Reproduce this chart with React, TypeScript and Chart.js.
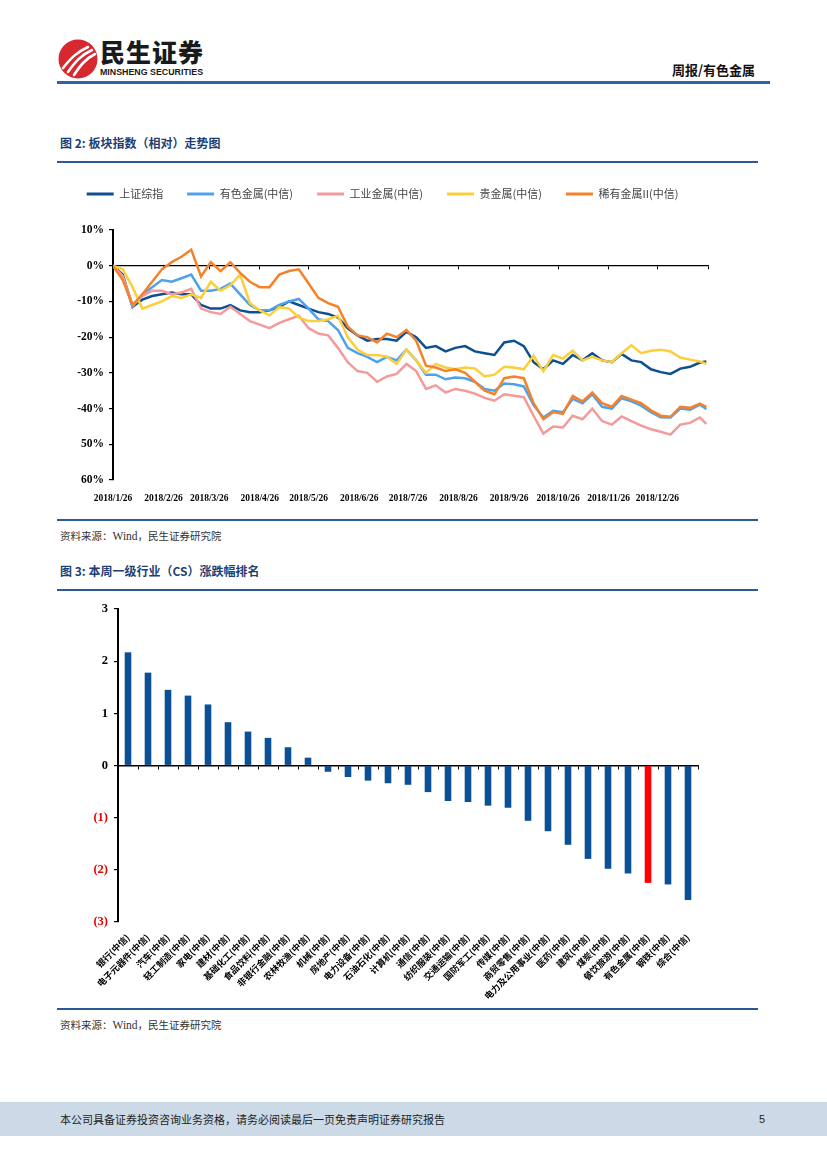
import React, { useEffect, useRef } from 'react';
import { Chart, registerables } from 'chart.js';
Chart.register(...registerables);

// ---------- Figure 2 data (relative index, %) ----------
const dayOffsets = [0, 6, 12, 18, 24, 30, 36, 42, 48, 54, 60, 66, 72, 78, 84, 90, 96, 102, 108, 114, 120, 126, 132, 138, 144, 150, 156, 162, 168, 174, 180, 186, 192, 198, 204, 210, 216, 222, 228, 234, 240, 246, 252, 258, 264, 270, 276, 282, 288, 294, 300, 306, 312, 318, 324, 330, 336, 342, 348, 354, 360, 364];
const monthTickDays = [0, 31, 59, 90, 120, 151, 181, 212, 243, 273, 304, 334, 365];
const monthTickLabels = ['2018/1/26', '2018/2/26', '2018/3/26', '2018/4/26', '2018/5/26', '2018/6/26', '2018/7/26', '2018/8/26', '2018/9/26', '2018/10/26', '2018/11/26', '2018/12/26', ''];
const seriesNames = ['上证综指', '有色金属(中信)', '工业金属(中信)', '贵金属(中信)', '稀有金属II(中信)'];
const shanghai = [0, -2.5, -11.5, -9.5, -8.5, -8, -7.5, -8, -8, -11, -12, -12, -11, -12.5, -13, -13, -12.5, -11.5, -10, -11, -12, -13, -13.5, -14.5, -17.5, -19.5, -21, -20.5, -20.5, -21, -18.5, -20, -23, -22.5, -24, -23, -22.5, -24, -24.5, -25, -21.5, -21, -22.5, -27, -29, -26.5, -27.5, -25, -26.5, -24.5, -26.5, -27, -24.7, -26.5, -27, -29, -29.8, -30.3, -28.8, -28.3, -27.1, -26.8];
const nonferrous = [0, -3, -11.5, -8, -6, -4, -4.5, -3.5, -2.5, -7, -7, -6.5, -5, -8, -11, -12.5, -12.5, -11, -10, -9.3, -12, -15, -15.5, -18, -23, -24.5, -25.5, -27, -25.5, -26.5, -23.5, -26.5, -30.5, -30.5, -31.8, -31.3, -31.5, -32.5, -34.5, -35, -33, -33.2, -33.8, -39, -42.5, -40.6, -41, -37.3, -38.5, -36, -39.5, -40, -37.1, -38, -39.2, -41, -42.4, -42.5, -40, -40.3, -38.9, -40.1];
const industrialMetals = [0, -3, -11, -8.5, -7, -7, -8, -7.5, -6.5, -12, -13, -13.5, -11.5, -13.5, -15.5, -16.5, -17.5, -16, -15, -14, -17.5, -19, -19.5, -23, -27, -29.5, -30, -32.5, -31, -30.3, -27.5, -29.5, -34.5, -33.5, -35.5, -34.5, -35, -35.8, -37, -37.8, -36, -36.4, -36.8, -42, -47, -45, -45.3, -42, -43, -40, -43.5, -44.5, -42.2, -43.5, -44.8, -45.8, -46.5, -47.3, -44.5, -44, -42.5, -44.3];
const preciousMetals = [0, -1, -6, -12, -11, -10, -8.5, -9, -8, -9, -4.5, -7, -5.5, -2.5, -10.5, -12.5, -13.9, -11.6, -12, -14.5, -15.5, -15.5, -15, -14, -20, -23.5, -25, -25, -25.5, -27.5, -23.5, -26.5, -30, -27.5, -28.5, -29, -28.5, -28.8, -31, -30.5, -28.3, -28.5, -29, -25.2, -29.5, -25, -26, -23.8, -26.5, -25.5, -26.5, -27, -24.5, -22.3, -24.5, -23.8, -23.5, -24, -25.7, -26.3, -26.8, -27.5];
const rareMetals = [0, -4, -11, -8, -4.5, -1, 1, 2.5, 4.5, -3, 1, -1.5, 1, -2, -4.5, -6, -6, -2.5, -1.5, -1, -5, -9, -10.5, -11.5, -17, -19.5, -20, -21.5, -19, -20, -18, -21, -28, -28.5, -29.5, -29, -30, -32.5, -35, -36, -31.5, -31, -31.5, -38.5, -43, -41, -41.5, -36.5, -38, -35.5, -38.5, -39.5, -36.5, -37.5, -38.5, -40.5, -42, -42.3, -39.5, -39.8, -38.6, -39.5];
const seriesColors = ['#0e4f8f', '#4ea1ec', '#f49a9a', '#fbcf3a', '#f5822a'];

// ---------- Figure 3 data ----------
const industries = ['银行(中信)', '电子元器件(中信)', '汽车(中信)', '轻工制造(中信)', '家电(中信)', '建材(中信)', '基础化工(中信)', '食品饮料(中信)', '非银行金融(中信)', '农林牧渔(中信)', '机械(中信)', '房地产(中信)', '电力设备(中信)', '石油石化(中信)', '计算机(中信)', '通信(中信)', '纺织服装(中信)', '交通运输(中信)', '国防军工(中信)', '传媒(中信)', '商贸零售(中信)', '电力及公用事业(中信)', '医药(中信)', '建筑(中信)', '煤炭(中信)', '餐饮旅游(中信)', '有色金属(中信)', '钢铁(中信)', '综合(中信)'];
const weeklyChange = [2.17, 1.78, 1.45, 1.34, 1.17, 0.83, 0.65, 0.53, 0.35, 0.15, -0.12, -0.22, -0.29, -0.34, -0.37, -0.51, -0.68, -0.70, -0.77, -0.81, -1.06, -1.26, -1.52, -1.79, -1.98, -2.07, -2.25, -2.28, -2.58];
const highlightIndustry = '有色金属(中信)';

const CJK = '"Noto Sans CJK SC", "Noto Sans", sans-serif';
const SERIF = '"Liberation Serif", "DejaVu Serif", serif';
const NAVY = '#1d3f73';
const RULE = '#2a5a94';

const legendGap = {
  id: 'legendGap',
  beforeInit(chart: any) {
    const legend = chart.legend;
    if (!legend) return;
    const orig = legend.fit;
    legend.fit = function () {
      orig.call(this);
      this.height += 20.5;
    };
  },
};

function Text({ x, y, size, children, style }: any) {
  return (
    <div style={{ position: 'absolute', left: x, top: y - size * 0.6, fontSize: size, lineHeight: `${size * 1.2}px`, whiteSpace: 'nowrap', fontFamily: CJK, ...style }}>
      {children}
    </div>
  );
}

function Rule({ y, h = 1.5, color = RULE, x = 57, w = 701 }: any) {
  return <div style={{ position: 'absolute', left: x, top: y, width: w, height: h, background: color }} />;
}

export default function App() {
  const c1 = useRef<HTMLCanvasElement>(null);
  const c2 = useRef<HTMLCanvasElement>(null);

  useEffect(() => {
    const allSeries = [shanghai, nonferrous, industrialMetals, preciousMetals, rareMetals];
    const ch1 = new Chart(c1.current as HTMLCanvasElement, {
      type: 'line',
      data: {
        datasets: allSeries.map((s, k) => ({
          label: seriesNames[k],
          data: dayOffsets.map((d, i) => ({ x: d, y: s[i] })),
          borderColor: seriesColors[k],
          backgroundColor: seriesColors[k],
          borderWidth: 2.5,
          pointRadius: 0,
          tension: 0,
          order: allSeries.length - 1 - k,
        })),
      },
      options: {
        responsive: false,
        animation: false,
        layout: { padding: { top: 4.5, right: 50, left: 0, bottom: 0 } },
        plugins: {
          tooltip: { enabled: false },
          legend: {
            position: 'top',
            labels: {
              boxWidth: 27,
              boxHeight: 3,
              padding: 24,
              color: '#444',
              font: { family: CJK, size: 11 },
              generateLabels: (chart: any) =>
                (Chart.defaults.plugins.legend.labels as any)
                  .generateLabels(chart)
                  .map((l: any) => ({ ...l, lineWidth: 0 }))
                  .sort((a: any, b: any) => a.datasetIndex - b.datasetIndex),
            },
          },
        },
        scales: {
          x: {
            type: 'linear',
            position: 'bottom',
            min: 0,
            max: 365,
            afterBuildTicks: (scale: any) => {
              scale.ticks = monthTickDays.slice(0, 12).map((v) => ({ value: v }));
            },
            afterFit: (scale: any) => { scale.height = 25; },
            grid: { display: false },
            border: { display: false },
            ticks: {
              autoSkip: false,
              maxRotation: 0,
              padding: 5,
              color: '#000',
              font: { family: SERIF, size: 9.5, weight: 'bold' },
              callback: (v: any) => monthTickLabels[monthTickDays.indexOf(Number(v))] ?? '',
            },
          },
          x2: {
            type: 'linear',
            axis: 'x',
            position: { y: 0 },
            min: 0,
            max: 365,
            afterBuildTicks: (scale: any) => {
              scale.ticks = monthTickDays.map((v) => ({ value: v }));
            },
            grid: { drawOnChartArea: false, drawTicks: true, tickLength: 3, color: '#000', lineWidth: 1 },
            border: { display: true, color: '#000', width: 1.3 },
            ticks: { display: false },
          },
          y: {
            min: -60,
            max: 10,
            afterFit: (scale: any) => { scale.width = 56; },
            ticks: {
              stepSize: 10,
              padding: 5,
              color: '#000',
              font: { family: SERIF, size: 11.5, weight: 'bold' },
              callback: (v: any) => (Number(v) <= -50 ? `${-Number(v)}%` : `${v}%`),
            },
            grid: { drawOnChartArea: false, drawTicks: true, tickLength: 4, color: '#000', lineWidth: 1.2 },
            border: { display: true, color: '#000', width: 2 },
          },
        },
      } as any,
      plugins: [legendGap],
    });

    const ch2 = new Chart(c2.current as HTMLCanvasElement, {
      type: 'bar',
      data: {
        labels: industries,
        datasets: [
          {
            data: weeklyChange,
            backgroundColor: industries.map((n) => (n === highlightIndustry ? '#ff0000' : '#0b4f94')),
            barPercentage: 0.33,
            categoryPercentage: 1,
          },
        ],
      },
      options: {
        responsive: false,
        animation: false,
        layout: { padding: { top: 14, right: 60, left: 0, bottom: 0 } },
        plugins: { legend: { display: false }, tooltip: { enabled: false } },
        scales: {
          x: {
            type: 'category',
            position: 'bottom',
            offset: true,
            afterFit: (scale: any) => { scale.height = 83; },
            grid: { display: false },
            border: { display: false },
            ticks: {
              autoSkip: false,
              minRotation: 45,
              maxRotation: 45,
              padding: 2,
              color: '#000',
              font: { family: CJK, size: 9, weight: 'bold' },
            },
          },
          x2: {
            type: 'category',
            axis: 'x',
            position: { y: 0 },
            offset: true,
            grid: { drawOnChartArea: false, drawTicks: true, tickLength: 3, color: '#000', lineWidth: 1, offset: true },
            border: { display: true, color: '#000', width: 1.5 },
            ticks: { display: false },
          },
          y: {
            min: -3,
            max: 3,
            afterFit: (scale: any) => { scale.width = 61; },
            ticks: {
              stepSize: 1,
              padding: 6,
              font: { family: SERIF, size: 12.5, weight: 'bold' },
              color: (ctx: any) => (ctx.tick && ctx.tick.value < 0 ? '#e60000' : '#000'),
              callback: (v: any) => (Number(v) < 0 ? `(${-Number(v)})` : `${v}`),
            },
            grid: { drawOnChartArea: false, drawTicks: true, tickLength: 4, color: '#000', lineWidth: 1.2 },
            border: { display: true, color: '#000', width: 2 },
          },
        },
      } as any,
    });

    return () => {
      ch1.destroy();
      ch2.destroy();
    };
  }, []);

  return (
    <div style={{ position: 'fixed', left: 0, top: 0, width: 827, height: 1169, background: '#fff', overflow: 'hidden' }}>
      {/* header logo */}
      <svg style={{ position: 'absolute', left: 57, top: 38 }} width={42} height={42} viewBox="0 0 42 42">
        <circle cx={21} cy={21} r={19.5} fill="#d8282f" />
        <path d="M6 30 C 14 20, 20 14, 31 9" stroke="#fff" strokeWidth={2.6} fill="none" strokeLinecap="round" />
        <path d="M11 34 C 18 24, 24 17, 35 12" stroke="#fff" strokeWidth={2.6} fill="none" strokeLinecap="round" />
        <path d="M17 37 C 23 28, 28 21, 38 16" stroke="#fff" strokeWidth={2.6} fill="none" strokeLinecap="round" />
      </svg>
      <div style={{ position: 'absolute', left: 100, top: 38, fontSize: 25, lineHeight: '27px', fontWeight: 900, fontFamily: CJK, color: '#1a1a1a', letterSpacing: 1, whiteSpace: 'nowrap' }}>民生证券</div>
      <div style={{ position: 'absolute', left: 100, top: 67, fontSize: 9.5, lineHeight: '10px', fontWeight: 700, fontFamily: '"Liberation Sans", Arial, sans-serif', color: '#1a1a1a', whiteSpace: 'nowrap', transform: 'scaleX(0.93)', transformOrigin: 'left center' }}>MINSHENG SECURITIES</div>
      <div style={{ position: 'absolute', right: 827 - 755, top: 62, fontSize: 13, lineHeight: '16px', fontWeight: 700, fontFamily: CJK, color: '#111', whiteSpace: 'nowrap' }}>周报/有色金属</div>
      <Rule y={81} h={3} color="#2f63a8" x={57} w={713} />

      {/* Figure 2 */}
      <Text x={60} y={143} size={12} style={{ fontWeight: 700, color: NAVY }}>图 2: 板块指数（相对）走势图</Text>
      <Rule y={161} />
      <canvas ref={c1} width={701} height={345} style={{ position: 'absolute', left: 57, top: 160, width: 701, height: 345 }} />
      <Rule y={519} />
      <Text x={60} y={536} size={10.5} style={{ color: '#333' }}>资料来源：<span style={{ fontFamily: SERIF, fontSize: 11.5 }}>Wind</span>，民生证券研究院</Text>

      {/* Figure 3 */}
      <Text x={60} y={571} size={12} style={{ fontWeight: 700, color: NAVY }}>图 3: 本周一级行业（CS）涨跌幅排名</Text>
      <Rule y={589} />
      <canvas ref={c2} width={701} height={410} style={{ position: 'absolute', left: 57, top: 595, width: 701, height: 410 }} />
      <Rule y={1008} />
      <Text x={60} y={1025} size={10.5} style={{ color: '#333' }}>资料来源：<span style={{ fontFamily: SERIF, fontSize: 11.5 }}>Wind</span>，民生证券研究院</Text>

      {/* footer */}
      <div style={{ position: 'absolute', left: 0, top: 1102, width: 827, height: 34, background: '#ccdae8' }} />
      <Text x={60} y={1120} size={11} style={{ color: '#222' }}>本公司具备证券投资咨询业务资格，请务必阅读最后一页免责声明证券研究报告</Text>
      <Text x={759} y={1120} size={11} style={{ color: '#222', fontFamily: '"Liberation Sans", Arial, sans-serif' }}>5</Text>
    </div>
  );
}
